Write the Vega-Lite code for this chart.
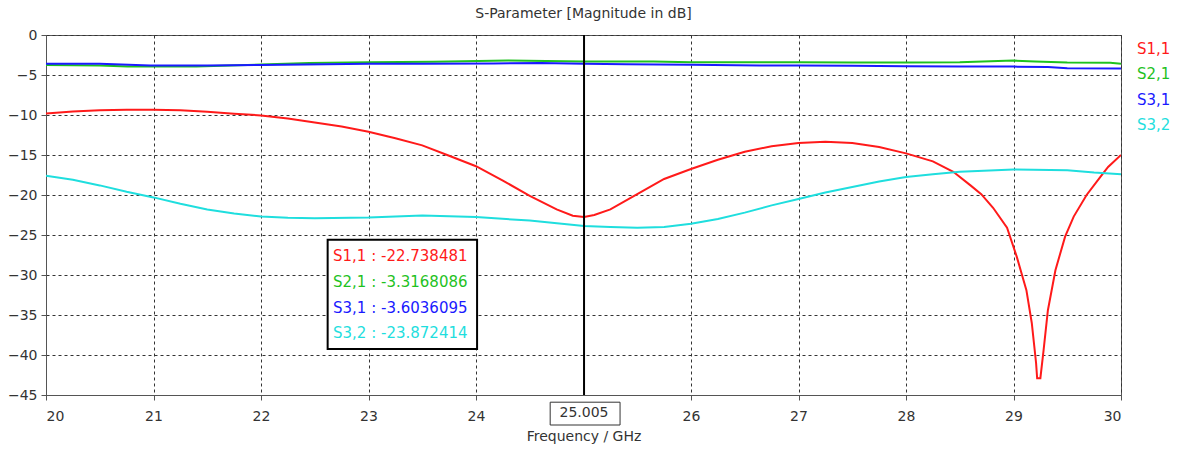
{
  "$schema": "https://vega.github.io/schema/vega-lite/v6.json",
  "width": 1075,
  "height": 360,
  "autosize": {"type": "none"},
  "padding": {"left": 46, "top": 35, "right": 58, "bottom": 58},
  "background": "white",
  "title": {"text": "S-Parameter [Magnitude in dB]", "font": "DejaVu Sans", "fontSize": 14, "fontWeight": "normal", "color": "#333333", "anchor": "middle", "offset": 7},
  "config": {
    "font": "DejaVu Sans",
    "view": {"stroke": "#555555", "strokeWidth": 1},
    "axis": {"labelFont": "DejaVu Sans", "labelFontSize": 14, "labelColor": "#333333", "titleFont": "DejaVu Sans", "titleFontSize": 14, "titleFontWeight": "normal", "titleColor": "#333333", "domainColor": "#555555", "tickColor": "#555555", "tickSize": 5, "grid": true, "gridColor": "#333333", "gridDash": [3, 3], "gridOpacity": 1, "gridWidth": 1}
  },
  "datasets": {
    "curves": [
      {"f": 20, "series": "S1,1", "db": -9.8}, {"f": 20.25, "series": "S1,1", "db": -9.55}, {"f": 20.5, "series": "S1,1", "db": -9.4}, {"f": 20.75, "series": "S1,1", "db": -9.35}, {"f": 21, "series": "S1,1", "db": -9.35}, {"f": 21.25, "series": "S1,1", "db": -9.4}, {"f": 21.5, "series": "S1,1", "db": -9.6}, {"f": 21.75, "series": "S1,1", "db": -9.85}, {"f": 22, "series": "S1,1", "db": -10.05}, {"f": 22.25, "series": "S1,1", "db": -10.45}, {"f": 22.5, "series": "S1,1", "db": -10.95}, {"f": 22.75, "series": "S1,1", "db": -11.45}, {"f": 23, "series": "S1,1", "db": -12.1}, {"f": 23.25, "series": "S1,1", "db": -12.9}, {"f": 23.5, "series": "S1,1", "db": -13.8}, {"f": 23.75, "series": "S1,1", "db": -15.1}, {"f": 24, "series": "S1,1", "db": -16.4}, {"f": 24.25, "series": "S1,1", "db": -18.2}, {"f": 24.5, "series": "S1,1", "db": -20.1}, {"f": 24.75, "series": "S1,1", "db": -21.8}, {"f": 24.9, "series": "S1,1", "db": -22.6}, {"f": 25.005, "series": "S1,1", "db": -22.738}, {"f": 25.1, "series": "S1,1", "db": -22.5}, {"f": 25.25, "series": "S1,1", "db": -21.8}, {"f": 25.5, "series": "S1,1", "db": -19.9}, {"f": 25.75, "series": "S1,1", "db": -18.0}, {"f": 26, "series": "S1,1", "db": -16.75}, {"f": 26.25, "series": "S1,1", "db": -15.6}, {"f": 26.5, "series": "S1,1", "db": -14.6}, {"f": 26.75, "series": "S1,1", "db": -13.9}, {"f": 27, "series": "S1,1", "db": -13.5}, {"f": 27.25, "series": "S1,1", "db": -13.35}, {"f": 27.5, "series": "S1,1", "db": -13.5}, {"f": 27.75, "series": "S1,1", "db": -14.0}, {"f": 28, "series": "S1,1", "db": -14.8}, {"f": 28.25, "series": "S1,1", "db": -15.8}, {"f": 28.44, "series": "S1,1", "db": -17.1}, {"f": 28.6, "series": "S1,1", "db": -18.8}, {"f": 28.7, "series": "S1,1", "db": -19.9}, {"f": 28.81, "series": "S1,1", "db": -21.6}, {"f": 28.94, "series": "S1,1", "db": -24.1}, {"f": 29.03, "series": "S1,1", "db": -27.7}, {"f": 29.12, "series": "S1,1", "db": -31.9}, {"f": 29.17, "series": "S1,1", "db": -36.0}, {"f": 29.21, "series": "S1,1", "db": -41.0}, {"f": 29.22, "series": "S1,1", "db": -42.9}, {"f": 29.25, "series": "S1,1", "db": -42.9}, {"f": 29.28, "series": "S1,1", "db": -39.4}, {"f": 29.32, "series": "S1,1", "db": -34.4}, {"f": 29.39, "series": "S1,1", "db": -29.4}, {"f": 29.48, "series": "S1,1", "db": -25.2}, {"f": 29.56, "series": "S1,1", "db": -22.7}, {"f": 29.68, "series": "S1,1", "db": -20.0}, {"f": 29.81, "series": "S1,1", "db": -17.7}, {"f": 29.88, "series": "S1,1", "db": -16.5}, {"f": 30, "series": "S1,1", "db": -15.0},
      {"f": 20, "series": "S2,1", "db": -3.75}, {"f": 20.5, "series": "S2,1", "db": -3.8}, {"f": 20.76, "series": "S2,1", "db": -3.95}, {"f": 21.4, "series": "S2,1", "db": -3.95}, {"f": 22, "series": "S2,1", "db": -3.7}, {"f": 22.45, "series": "S2,1", "db": -3.5}, {"f": 23, "series": "S2,1", "db": -3.4}, {"f": 23.6, "series": "S2,1", "db": -3.35}, {"f": 24.3, "series": "S2,1", "db": -3.2}, {"f": 25.005, "series": "S2,1", "db": -3.317}, {"f": 25.65, "series": "S2,1", "db": -3.3}, {"f": 26, "series": "S2,1", "db": -3.4}, {"f": 26.5, "series": "S2,1", "db": -3.4}, {"f": 27, "series": "S2,1", "db": -3.4}, {"f": 27.5, "series": "S2,1", "db": -3.45}, {"f": 28, "series": "S2,1", "db": -3.45}, {"f": 28.5, "series": "S2,1", "db": -3.4}, {"f": 29, "series": "S2,1", "db": -3.2}, {"f": 29.2, "series": "S2,1", "db": -3.3}, {"f": 29.5, "series": "S2,1", "db": -3.45}, {"f": 29.9, "series": "S2,1", "db": -3.46}, {"f": 30, "series": "S2,1", "db": -3.58},
      {"f": 20, "series": "S3,1", "db": -3.6}, {"f": 20.5, "series": "S3,1", "db": -3.6}, {"f": 20.97, "series": "S3,1", "db": -3.8}, {"f": 21.5, "series": "S3,1", "db": -3.8}, {"f": 22, "series": "S3,1", "db": -3.75}, {"f": 22.6, "series": "S3,1", "db": -3.65}, {"f": 23, "series": "S3,1", "db": -3.6}, {"f": 23.5, "series": "S3,1", "db": -3.6}, {"f": 24.16, "series": "S3,1", "db": -3.55}, {"f": 24.6, "series": "S3,1", "db": -3.5}, {"f": 25.005, "series": "S3,1", "db": -3.604}, {"f": 25.4, "series": "S3,1", "db": -3.66}, {"f": 26, "series": "S3,1", "db": -3.72}, {"f": 26.64, "series": "S3,1", "db": -3.8}, {"f": 27, "series": "S3,1", "db": -3.8}, {"f": 27.5, "series": "S3,1", "db": -3.85}, {"f": 28, "series": "S3,1", "db": -3.9}, {"f": 28.5, "series": "S3,1", "db": -3.95}, {"f": 29, "series": "S3,1", "db": -3.95}, {"f": 29.32, "series": "S3,1", "db": -4.0}, {"f": 29.5, "series": "S3,1", "db": -4.15}, {"f": 30, "series": "S3,1", "db": -4.2},
      {"f": 20, "series": "S3,2", "db": -17.6}, {"f": 20.25, "series": "S3,2", "db": -18.1}, {"f": 20.5, "series": "S3,2", "db": -18.8}, {"f": 20.75, "series": "S3,2", "db": -19.6}, {"f": 21, "series": "S3,2", "db": -20.3}, {"f": 21.25, "series": "S3,2", "db": -21.1}, {"f": 21.5, "series": "S3,2", "db": -21.8}, {"f": 21.75, "series": "S3,2", "db": -22.3}, {"f": 22, "series": "S3,2", "db": -22.7}, {"f": 22.25, "series": "S3,2", "db": -22.85}, {"f": 22.5, "series": "S3,2", "db": -22.9}, {"f": 23, "series": "S3,2", "db": -22.8}, {"f": 23.5, "series": "S3,2", "db": -22.55}, {"f": 24, "series": "S3,2", "db": -22.75}, {"f": 24.5, "series": "S3,2", "db": -23.2}, {"f": 25.005, "series": "S3,2", "db": -23.872}, {"f": 25.25, "series": "S3,2", "db": -24.0}, {"f": 25.5, "series": "S3,2", "db": -24.1}, {"f": 25.75, "series": "S3,2", "db": -24.0}, {"f": 26, "series": "S3,2", "db": -23.6}, {"f": 26.25, "series": "S3,2", "db": -23.0}, {"f": 26.5, "series": "S3,2", "db": -22.2}, {"f": 26.75, "series": "S3,2", "db": -21.3}, {"f": 27, "series": "S3,2", "db": -20.5}, {"f": 27.25, "series": "S3,2", "db": -19.7}, {"f": 27.5, "series": "S3,2", "db": -19.0}, {"f": 27.75, "series": "S3,2", "db": -18.3}, {"f": 28, "series": "S3,2", "db": -17.75}, {"f": 28.25, "series": "S3,2", "db": -17.4}, {"f": 28.5, "series": "S3,2", "db": -17.1}, {"f": 29, "series": "S3,2", "db": -16.8}, {"f": 29.5, "series": "S3,2", "db": -16.9}, {"f": 29.75, "series": "S3,2", "db": -17.2}, {"f": 30, "series": "S3,2", "db": -17.4}
    ],
    "readout": [
      {"series": "S1,1", "label": "S1,1 : -22.738481", "ax": 22.67, "ay": -27.6},
      {"series": "S2,1", "label": "S2,1 : -3.3168086", "ax": 22.67, "ay": -30.85},
      {"series": "S3,1", "label": "S3,1 : -3.6036095", "ax": 22.67, "ay": -34.1},
      {"series": "S3,2", "label": "S3,2 : -23.872414", "ax": 22.67, "ay": -37.3}
    ],
    "readbox": [{"x1": 22.62, "x2": 24.01, "y1": -25.6, "y2": -39.25}],
    "marker": [{"f": 25.005, "label": "25.005", "ly": -47.3, "bx1": 24.69, "bx2": 25.34, "by1": -45.9, "by2": -48.75}]
  },
  "layer": [
    {
      "data": {"name": "curves"},
      "mark": {"type": "line", "strokeWidth": 2, "clip": true},
      "encoding": {
        "x": {"field": "f", "type": "quantitative", "title": "Frequency / GHz", "scale": {"domain": [20, 30], "nice": false, "zero": false}, "axis": {"values": [20, 21, 22, 23, 24, 26, 27, 28, 29, 30], "format": "d", "labelOverlap": false, "labelPadding": 9, "titlePadding": 6}},
        "y": {"field": "db", "type": "quantitative", "title": null, "scale": {"domain": [-45, 0], "nice": false, "zero": false}, "axis": {"tickCount": 9, "format": "d", "labelOverlap": false, "labelFlush": false, "labelPadding": 4}},
        "color": {"field": "series", "type": "nominal", "scale": {"domain": ["S1,1", "S2,1", "S3,1", "S3,2"], "range": ["#ff1a1a", "#1fc21f", "#1a1aff", "#1fdede"]},
          "legend": {"title": null, "orient": "none", "legendX": 1076, "legendY": 6, "symbolSize": 0, "symbolOpacity": 0, "symbolStrokeWidth": 0, "labelFont": "DejaVu Sans", "labelFontSize": 15, "labelOffset": 0, "rowPadding": 9.5, "encode": {"labels": {"update": {"fill": {"scale": "color", "field": "value"}}}}}}
      }
    },
    {
      "data": {"name": "marker"},
      "mark": {"type": "rule", "color": "#000000", "strokeWidth": 2},
      "encoding": {"x": {"field": "f", "type": "quantitative"}}
    },
    {
      "data": {"name": "readbox"},
      "mark": {"type": "rect", "fill": "white", "stroke": "#000000", "strokeWidth": 2},
      "encoding": {"x": {"field": "x1", "type": "quantitative"}, "x2": {"field": "x2"}, "y": {"field": "y1", "type": "quantitative"}, "y2": {"field": "y2"}}
    },
    {
      "data": {"name": "readout"},
      "mark": {"type": "text", "align": "left", "baseline": "middle", "font": "DejaVu Sans", "fontSize": 15},
      "encoding": {"x": {"field": "ax", "type": "quantitative"}, "y": {"field": "ay", "type": "quantitative"}, "text": {"field": "label"}, "color": {"field": "series", "type": "nominal"}}
    },
    {
      "data": {"name": "marker"},
      "mark": {"type": "rect", "fill": "white", "stroke": "#333333", "strokeWidth": 1, "clip": false},
      "encoding": {"x": {"field": "bx1", "type": "quantitative"}, "x2": {"field": "bx2"}, "y": {"field": "by1", "type": "quantitative"}, "y2": {"field": "by2"}}
    },
    {
      "data": {"name": "marker"},
      "mark": {"type": "text", "align": "center", "baseline": "middle", "font": "DejaVu Sans", "fontSize": 14, "color": "#333333", "clip": false},
      "encoding": {"x": {"field": "f", "type": "quantitative"}, "y": {"field": "ly", "type": "quantitative"}, "text": {"field": "label"}}
    }
  ]
}
